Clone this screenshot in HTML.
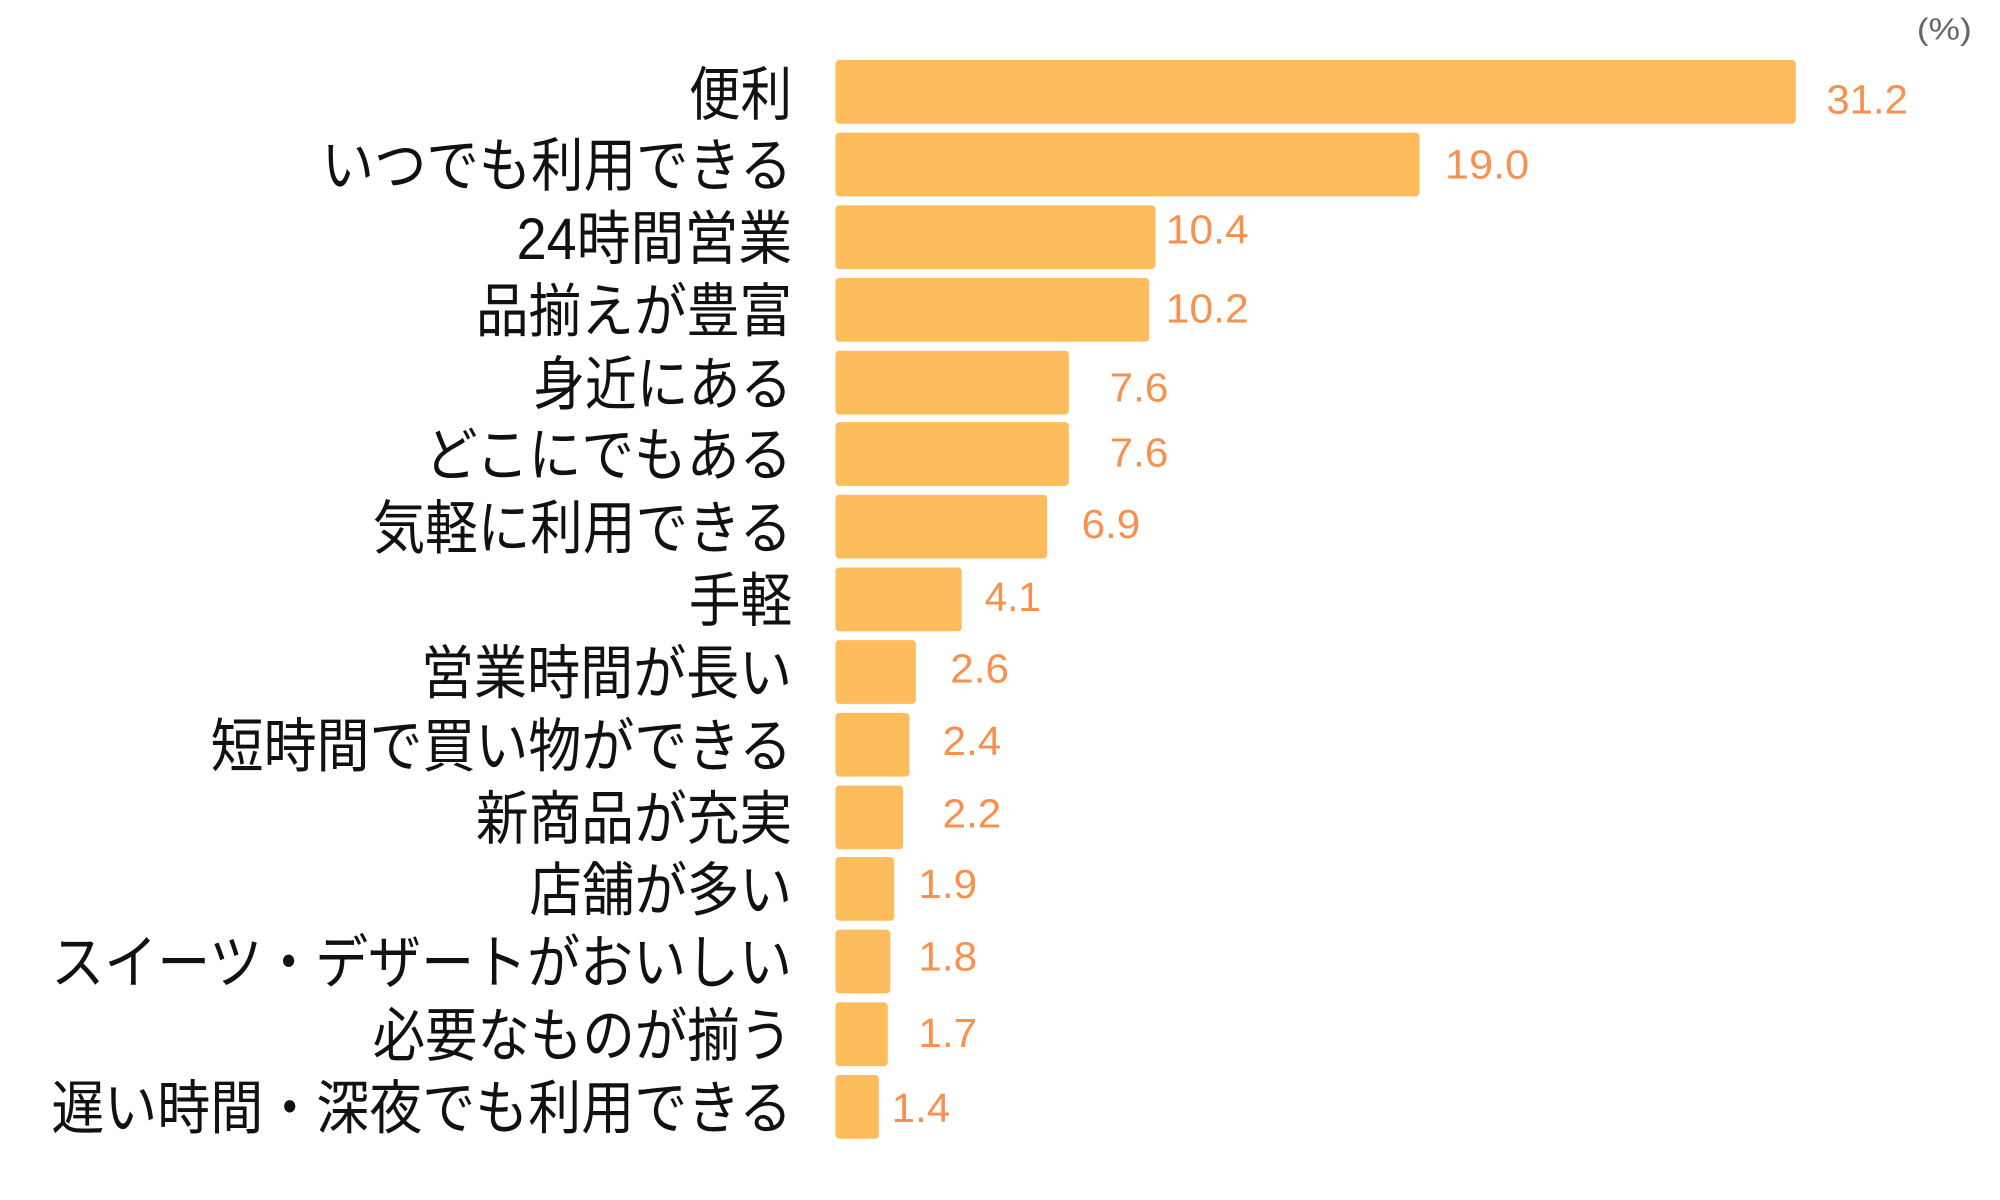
<!DOCTYPE html>
<html><head><meta charset="utf-8"><style>
html,body{margin:0;padding:0;background:#fff;}
svg{display:block}
.l{font-family:"Liberation Sans","Noto Sans CJK JP",sans-serif;font-size:46px;fill:#111;text-anchor:end}
.v{font-family:"Liberation Sans",sans-serif;font-size:32px;fill:#F7914D}
</style></head><body>
<svg width="2000" height="1200" viewBox="0 0 1568 941" xmlns="http://www.w3.org/2000/svg">
<text x="1503" y="31" style="font-family:'Liberation Sans',sans-serif;font-size:24px;fill:#666" textLength="43" lengthAdjust="spacingAndGlyphs">(%)</text>
<g fill="#FDBD5C">
<rect x="655" y="47" width="753" height="50" rx="3"/>
<rect x="655" y="104" width="458" height="50" rx="3"/>
<rect x="655" y="161" width="251" height="50" rx="3"/>
<rect x="655" y="218" width="246" height="50" rx="3"/>
<rect x="655" y="275" width="183" height="50" rx="3"/>
<rect x="655" y="331" width="183" height="50" rx="3"/>
<rect x="655" y="388" width="166" height="50" rx="3"/>
<rect x="655" y="445" width="99" height="50" rx="3"/>
<rect x="655" y="502" width="63" height="50" rx="3"/>
<rect x="655" y="559" width="58" height="50" rx="3"/>
<rect x="655" y="616" width="53" height="50" rx="3"/>
<rect x="655" y="672" width="46" height="50" rx="3"/>
<rect x="655" y="729" width="43" height="50" rx="3"/>
<rect x="655" y="786" width="41" height="50" rx="3"/>
<rect x="655" y="843" width="34" height="50" rx="3"/>
</g>
<g class="l">
<text x="621" y="90" textLength="81" lengthAdjust="spacingAndGlyphs">便利</text>
<text x="621" y="146" textLength="369" lengthAdjust="spacingAndGlyphs">いつでも利用できる</text>
<text x="621" y="203" textLength="216" lengthAdjust="spacingAndGlyphs">24時間営業</text>
<text x="621" y="260" textLength="248" lengthAdjust="spacingAndGlyphs">品揃えが豊富</text>
<text x="621" y="317" textLength="203" lengthAdjust="spacingAndGlyphs">身近にある</text>
<text x="621" y="373" textLength="288" lengthAdjust="spacingAndGlyphs">どこにでもある</text>
<text x="621" y="430" textLength="329" lengthAdjust="spacingAndGlyphs">気軽に利用できる</text>
<text x="621" y="487" textLength="81" lengthAdjust="spacingAndGlyphs">手軽</text>
<text x="621" y="544" textLength="291" lengthAdjust="spacingAndGlyphs">営業時間が長い</text>
<text x="621" y="601" textLength="456" lengthAdjust="spacingAndGlyphs">短時間で買い物ができる</text>
<text x="621" y="658" textLength="248" lengthAdjust="spacingAndGlyphs">新商品が充実</text>
<text x="621" y="714" textLength="206" lengthAdjust="spacingAndGlyphs">店舗が多い</text>
<text x="621" y="771" textLength="581" lengthAdjust="spacingAndGlyphs">スイーツ・デザートがおいしい</text>
<text x="621" y="828" textLength="329" lengthAdjust="spacingAndGlyphs">必要なものが揃う</text>
<text x="621" y="885" textLength="581" lengthAdjust="spacingAndGlyphs">遅い時間・深夜でも利用できる</text>
</g>
<g class="v">
<text x="1432" y="89" textLength="64" lengthAdjust="spacingAndGlyphs">31.2</text>
<text x="1133" y="140" textLength="66" lengthAdjust="spacingAndGlyphs">19.0</text>
<text x="914" y="191" textLength="65" lengthAdjust="spacingAndGlyphs">10.4</text>
<text x="914" y="253" textLength="65" lengthAdjust="spacingAndGlyphs">10.2</text>
<text x="870" y="315" textLength="46" lengthAdjust="spacingAndGlyphs">7.6</text>
<text x="870" y="366" textLength="46" lengthAdjust="spacingAndGlyphs">7.6</text>
<text x="848" y="422" textLength="46" lengthAdjust="spacingAndGlyphs">6.9</text>
<text x="772" y="479" textLength="44" lengthAdjust="spacingAndGlyphs">4.1</text>
<text x="745" y="535" textLength="46" lengthAdjust="spacingAndGlyphs">2.6</text>
<text x="739" y="592" textLength="46" lengthAdjust="spacingAndGlyphs">2.4</text>
<text x="739" y="649" textLength="46" lengthAdjust="spacingAndGlyphs">2.2</text>
<text x="720" y="704" textLength="46" lengthAdjust="spacingAndGlyphs">1.9</text>
<text x="720" y="761" textLength="46" lengthAdjust="spacingAndGlyphs">1.8</text>
<text x="720" y="821" textLength="46" lengthAdjust="spacingAndGlyphs">1.7</text>
<text x="699" y="880" textLength="46" lengthAdjust="spacingAndGlyphs">1.4</text>
</g>
</svg>
</body></html>
